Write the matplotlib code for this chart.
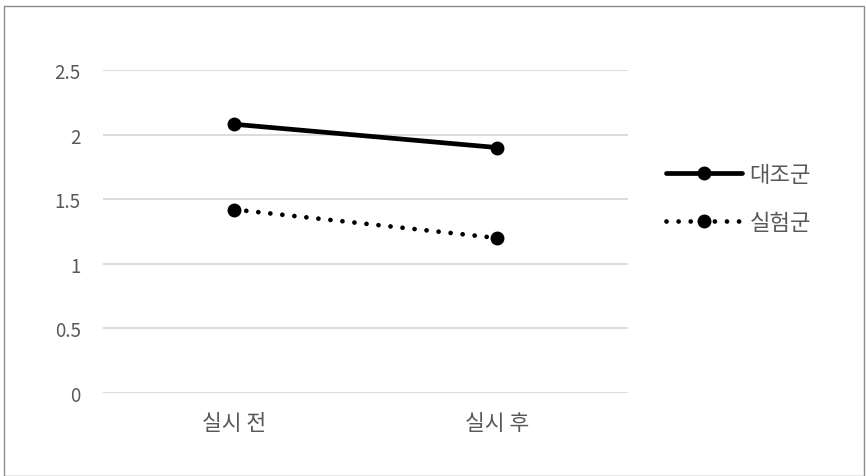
import matplotlib
matplotlib.use("Agg")
import matplotlib.pyplot as plt
from matplotlib.patches import Rectangle

plt.rcParams['font.family'] = ['Noto Sans CJK KR', 'DejaVu Sans']

categories = ['실시 전', '실시 후']
control = [2.08, 1.90]
experimental = [1.42, 1.20]
series_names = ['대조군', '실험군']
yticks = [0, 0.5, 1, 1.5, 2, 2.5]
ytick_labels = ['0', '0.5', '1', '1.5', '2', '2.5']

W, H = 866, 477
fig = plt.figure(figsize=(W/100, H/100), dpi=100)
ax = fig.add_axes([103/W, 1-394/H, 525/W, (394-71)/H])

x = list(range(len(categories)))
ax.plot(x, control, color='black', lw=3.4, marker='o', ms=9, solid_capstyle='round',
        label=series_names[0])
ax.plot(x, experimental, color='black', lw=3.4, marker='o', ms=9, linestyle=(0, (0.01, 2.55)),
        dash_capstyle='round', label=series_names[1])

ax.set_xlim(-0.5, 1.5)
ax.set_ylim(0, 2.5)
ax.set_yticks(yticks)
ax.set_yticklabels(ytick_labels)
ax.set_xticks(x)
ax.set_xticklabels(categories)
ax.yaxis.grid(True, color='#d9d9d9', lw=1.3)
ax.set_axisbelow(True)
for s in ax.spines.values():
    s.set_visible(False)
ax.tick_params(axis='y', length=0, colors='#595959', labelsize=13.5, pad=16)
ax.tick_params(axis='x', length=0, colors='#595959', labelsize=15.5, pad=14)

leg = fig.legend(loc='upper left', bbox_to_anchor=(646/W, 1-144/H), frameon=False,
                 fontsize=16, handlelength=3.4, handletextpad=0.35, labelspacing=1.12,
                 labelcolor='#595959')

fig.patches.append(Rectangle((4/W, 0), (864-4)/W, 1-7/H, transform=fig.transFigure,
                             fill=False, edgecolor='#8c8c8c', lw=1))

fig.savefig('out.png', dpi=100)
